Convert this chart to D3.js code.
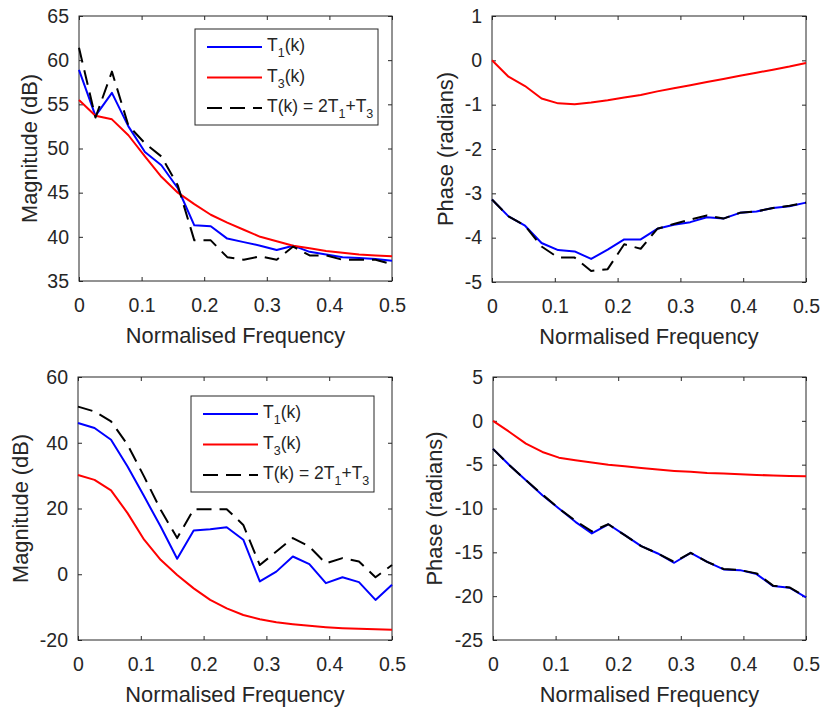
<!DOCTYPE html>
<html>
<head>
<meta charset="utf-8">
<script src="https://cdn.jsdelivr.net/npm/d3@7"></script>
<style>
	body { margin: 0; background: #fff; }
	svg text { font-family: "Liberation Sans", Arial, Helvetica, sans-serif; }
</style>
</head>
<body>
<svg id="figure" width="824" height="711"></svg>
<script>
// normalised frequency of each sample (20 bins from 0 to 0.5)
var freq = [0, 0.0263, 0.0526, 0.0789, 0.1053, 0.1316, 0.1579, 0.1842, 0.2105, 0.2368,
	0.2632, 0.2895, 0.3158, 0.3421, 0.3684, 0.3947, 0.4211, 0.4474, 0.4737, 0.5];

var xTicks = [0, 0.1, 0.2, 0.3, 0.4, 0.5];
var xTickLabels = ['0', '0.1', '0.2', '0.3', '0.4', '0.5'];

// top row, magnitude (dB)
var mag1T1 = [58.9, 53.7, 56.3, 52.5, 49.6, 48.1, 45.5, 41.3, 41.2, 39.8, 39.4, 39.0, 38.5, 39.0, 38.3, 38.0, 37.7, 37.6, 37.5, 37.3];
var mag1T3 = [55.5, 53.7, 53.3, 51.5, 49.1, 46.8, 45.0, 43.7, 42.5, 41.6, 40.8, 40.0, 39.5, 39.0, 38.7, 38.4, 38.2, 38.0, 37.9, 37.8];
var mag1T = [61.4, 53.5, 58.7, 52.6, 50.6, 49.1, 45.8, 39.6, 39.6, 37.7, 37.4, 37.8, 37.4, 38.9, 37.9, 37.9, 37.4, 37.4, 37.4, 36.9];
var mag1Ticks = [35, 40, 45, 50, 55, 60, 65];

// top row, phase (radians)
var ph1T1 = [-3.14, -3.52, -3.73, -4.12, -4.28, -4.31, -4.48, -4.27, -4.04, -4.04, -3.80, -3.71, -3.65, -3.54, -3.57, -3.44, -3.41, -3.33, -3.29, -3.21];
var ph1T3 = [0, -0.37, -0.58, -0.86, -0.97, -0.99, -0.95, -0.90, -0.84, -0.78, -0.70, -0.63, -0.56, -0.49, -0.42, -0.35, -0.28, -0.21, -0.14, -0.06];
var ph1T = [-3.14, -3.52, -3.73, -4.20, -4.45, -4.45, -4.75, -4.71, -4.15, -4.25, -3.80, -3.69, -3.59, -3.50, -3.57, -3.44, -3.41, -3.33, -3.28, -3.21];
var ph1Ticks = [-5, -4, -3, -2, -1, 0, 1];

// bottom row, magnitude (dB)
var mag2T1 = [46.0, 44.5, 40.9, 32.8, 23.7, 14.5, 4.7, 13.3, 13.7, 14.3, 10.5, -2.2, 0.8, 5.4, 3.1, -2.7, -0.9, -2.4, -7.8, -3.2];
var mag2T3 = [30.2, 28.7, 25.5, 18.6, 10.5, 4.4, -0.2, -4.3, -7.8, -10.4, -12.4, -13.7, -14.6, -15.2, -15.7, -16.1, -16.4, -16.6, -16.7, -16.9];
var mag2T = [51.0, 49.5, 46.5, 39.4, 29.7, 19.6, 11.0, 19.8, 19.8, 19.8, 15.0, 2.8, 6.9, 11.0, 8.4, 3.3, 4.9, 3.9, -0.9, 2.8];
var mag2Ticks = [-20, 0, 20, 40, 60];

// bottom row, phase (radians)
var ph2T1 = [-3.2, -5.06, -6.77, -8.48, -10.0, -11.52, -12.85, -11.8, -13.04, -14.3, -15.13, -16.19, -15.05, -16.08, -16.95, -17.03, -17.48, -18.85, -19.04, -20.14];
var ph2T3 = [0, -1.27, -2.6, -3.55, -4.2, -4.5, -4.76, -5.0, -5.18, -5.37, -5.56, -5.71, -5.82, -5.94, -6.01, -6.09, -6.17, -6.24, -6.28, -6.32];
var ph2T = [-3.2, -5.06, -6.77, -8.4, -10.0, -11.4, -12.6, -11.8, -13.04, -14.3, -15.13, -16.1, -15.05, -16.08, -16.9, -17.03, -17.4, -18.8, -19.0, -20.1];
var ph2Ticks = [-25, -20, -15, -10, -5, 0, 5];

var seriesNames = ['T1', 'T3', 'T'];
var legendLabels = [
	[{ t: 'T' }, { t: '1', sub: true }, { t: '(k)' }],
	[{ t: 'T' }, { t: '3', sub: true }, { t: '(k)' }],
	[{ t: 'T(k) = 2T' }, { t: '1', sub: true }, { t: '+T' }, { t: '3', sub: true }]
];

var styles = {
	T1: { color: '#0000ff', dash: null },
	T3: { color: '#ff0000', dash: null },
	T: { color: '#000000', dash: '15,8' }
};

var axisColor = '#262626';
var svg = d3.select('#figure');

function drawPanel(p) {
	let x = d3.scaleLinear().domain([0, 0.5]).range([p.left, p.left + p.width]);
	let y = d3.scaleLinear().domain(d3.extent(p.yTicks)).range([p.top + p.height, p.top]);
	let bottom = p.top + p.height;
	let right = p.left + p.width;

	let g = svg.append('g');

	// ticks on all four sides, pointing inwards
	let xb = g.append('g')
		.attr('transform', `translate(0,${bottom})`)
		.call(d3.axisBottom(x).tickValues(xTicks).tickFormat((d, i) => xTickLabels[i])
			.tickSize(-4).tickSizeOuter(0).tickPadding(17));
	let xt = g.append('g')
		.attr('transform', `translate(0,${p.top})`)
		.call(d3.axisTop(x).tickValues(xTicks).tickFormat('').tickSize(-4).tickSizeOuter(0));
	let yl = g.append('g')
		.attr('transform', `translate(${p.left},0)`)
		.call(d3.axisLeft(y).tickValues(p.yTicks).tickFormat(d => d)
			.tickSize(-4).tickSizeOuter(0).tickPadding(10));
	let yr = g.append('g')
		.attr('transform', `translate(${right},0)`)
		.call(d3.axisRight(y).tickValues(p.yTicks).tickFormat('').tickSize(-4).tickSizeOuter(0));

	[xb, xt, yl, yr].forEach(a => {
		a.select('.domain').remove();
		a.attr('color', axisColor)
			.attr('font-size', 19.5)
			.attr('font-family', '"Liberation Sans", Arial, sans-serif');
	});

	g.append('rect')
		.attr('x', p.left)
		.attr('y', p.top)
		.attr('width', p.width)
		.attr('height', p.height)
		.attr('fill', 'none')
		.attr('stroke', axisColor)
		.attr('stroke-width', 1);

	let line = d3.line()
		.x((d, i) => x(freq[i]))
		.y(d => y(d));

	g.selectAll('path.series')
		.data(p.series)
		.enter()
		.append('path')
		.classed('series', true)
		.attr('d', d => line(d.values))
		.attr('fill', 'none')
		.attr('stroke', d => styles[d.name].color)
		.attr('stroke-width', 2)
		.attr('stroke-linejoin', 'round')
		.attr('stroke-dasharray', d => styles[d.name].dash);

	g.append('text')
		.attr('x', (p.left + right) / 2)
		.attr('y', bottom + 62)
		.attr('text-anchor', 'middle')
		.attr('font-size', 21.8)
		.attr('fill', axisColor)
		.text('Normalised Frequency');

	g.append('text')
		.attr('transform', `translate(${p.labelX},${(p.top + bottom) / 2}) rotate(-90)`)
		.attr('text-anchor', 'middle')
		.attr('font-size', 21.8)
		.attr('fill', axisColor)
		.text(p.yLabel);

	if (p.legend) {
		let leg = g.append('g')
			.attr('transform', `translate(${p.legend.x},${p.legend.y})`);

		leg.append('rect')
			.attr('width', 183)
			.attr('height', 96)
			.attr('fill', '#fff')
			.attr('stroke', axisColor)
			.attr('stroke-width', 1);

		leg.selectAll('line')
			.data(seriesNames)
			.enter()
			.append('line')
			.attr('x1', 12)
			.attr('x2', 67)
			.attr('y1', (d, i) => 18 + i * 30.5)
			.attr('y2', (d, i) => 18 + i * 30.5)
			.attr('stroke', d => styles[d].color)
			.attr('stroke-width', 2)
			.attr('stroke-dasharray', d => styles[d].dash);

		let labels = leg.selectAll('text')
			.data(legendLabels)
			.enter()
			.append('text')
			.attr('x', 72)
			.attr('y', (d, i) => 22 + i * 30.5)
			.attr('font-size', 17.5)
			.attr('fill', axisColor);

		labels.each(function (parts) {
			let t = d3.select(this);
			let wasSub = false;
			parts.forEach(part => {
				t.append('tspan')
					.attr('dy', part.sub ? 6 : (wasSub ? -6 : 0))
					.attr('font-size', part.sub ? 12.5 : 17.5)
					.text(part.t);
				wasSub = !!part.sub;
			});
		});
	}
}

drawPanel({
	left: 79, top: 16, width: 313, height: 265,
	yTicks: mag1Ticks, yLabel: 'Magnitude (dB)', labelX: 37,
	series: [{ name: 'T1', values: mag1T1 }, { name: 'T3', values: mag1T3 }, { name: 'T', values: mag1T }],
	legend: { x: 195, y: 29 }
});

drawPanel({
	left: 492, top: 16, width: 314, height: 266,
	yTicks: ph1Ticks, yLabel: 'Phase (radians)', labelX: 453,
	series: [{ name: 'T1', values: ph1T1 }, { name: 'T3', values: ph1T3 }, { name: 'T', values: ph1T }]
});

drawPanel({
	left: 78, top: 377, width: 314, height: 263,
	yTicks: mag2Ticks, yLabel: 'Magnitude (dB)', labelX: 28,
	series: [{ name: 'T1', values: mag2T1 }, { name: 'T3', values: mag2T3 }, { name: 'T', values: mag2T }],
	legend: { x: 191, y: 396 }
});

drawPanel({
	left: 493, top: 377, width: 313, height: 263,
	yTicks: ph2Ticks, yLabel: 'Phase (radians)', labelX: 442,
	series: [{ name: 'T1', values: ph2T1 }, { name: 'T3', values: ph2T3 }, { name: 'T', values: ph2T }]
});
</script>
</body>
</html>
